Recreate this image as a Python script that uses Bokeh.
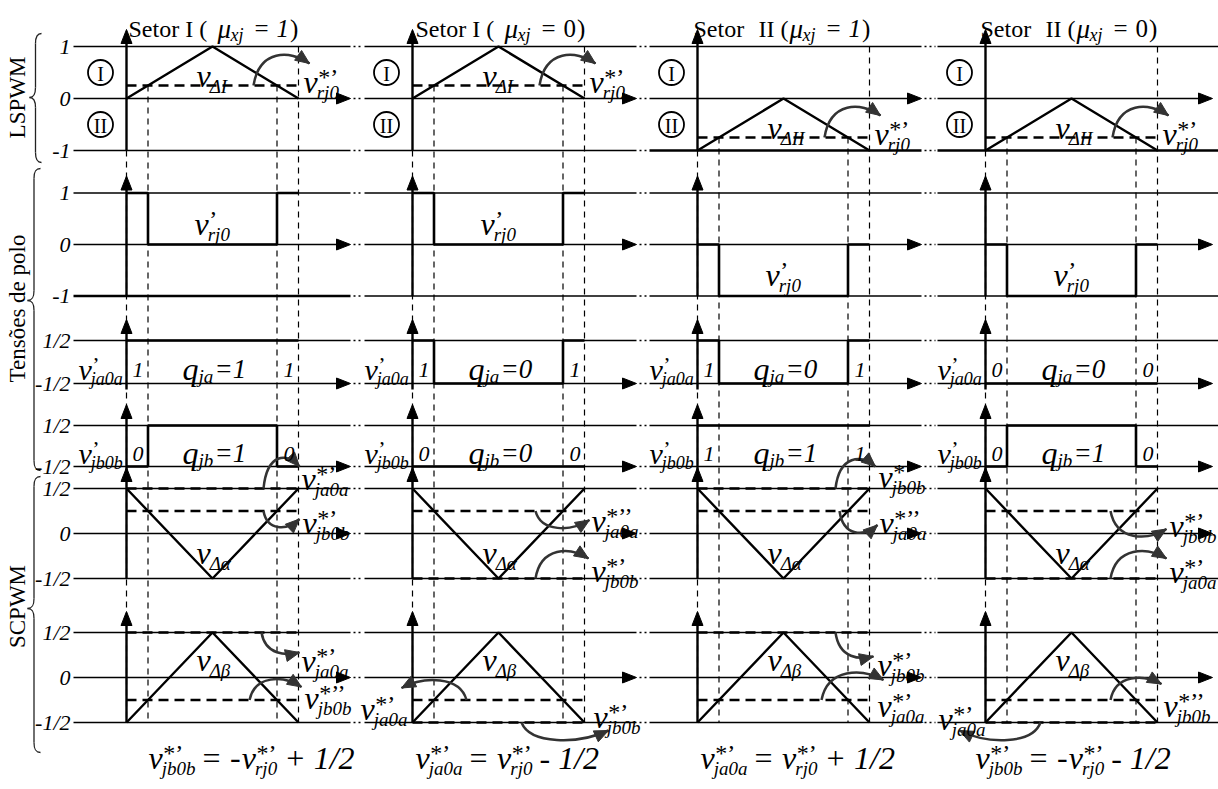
import math
from bokeh.plotting import figure
from bokeh.models import Range1d
from bokeh.core.properties import value
from bokeh.embed import file_html
from bokeh.resources import INLINE

W, H = 1218, 789
SERIF = "Liberation Serif"
ARROW_C = "#333333"

# ---------------- values shown in the diagram ----------------
sectors = ["I", "I", "II", "II"]
mu_xj = ["1", "0", "1", "0"]
v_rj0_ref = [0.25, 0.25, -0.75, -0.75]      # LSPWM reference per case
carrier_floor = [0.0, 0.0, -1.0, -1.0]      # zone I carrier in [0,1], zone II in [-1,0]
q_ja = [[1, 1, 1], [1, 0, 1], [1, 0, 1], [0, 0, 0]]
q_jb = [[0, 1, 0], [0, 0, 0], [1, 1, 1], [0, 1, 0]]
# SCPWM references: (level, superscript, subscript)
alpha_refs = [
    [(0.5, "*’", "ja0a"), (0.25, "*’", "jb0b")],
    [(0.25, "*’’", "ja0a"), (-0.5, "*’", "jb0b")],
    [(0.5, "*’", "jb0b"), (0.25, "*’’", "ja0a")],
    [(0.25, "*’", "jb0b"), (-0.5, "*’", "ja0a")],
]
beta_refs = [
    [(0.5, "*’", "ja0a"), (-0.25, "*’’", "jb0b")],
    [(-0.25, "*’", "ja0a"), (-0.5, "*’", "jb0b")],
    [(0.5, "*’", "jb0b"), (-0.25, "*’", "ja0a")],
    [(-0.25, "*’’", "jb0b"), (-0.5, "*’", "ja0a")],
]
eq_lhs = ["jb0b", "ja0a", "ja0a", "jb0b"]
eq_sign = ["-", "", "", "-"]
eq_tail = ["+ 1/2", "- 1/2", "+ 1/2", "- 1/2"]
row_levels = {
    "ls": [1, 0, -1], "pole": [1, 0, -1], "qa": [0.5, -0.5],
    "qb": [0.5, -0.5], "al": [0.5, 0, -0.5], "be": [0.5, 0, -0.5],
}
row_tick_text = {1: "1", 0: "0", -1: "-1", 0.5: "1/2", -0.5: "-1/2"}

# ---------------- layout ----------------
AX = [126, 412, 697, 985]          # time origin of each case
PER = 172                          # carrier period width
LEFT0 = 73
ROWS = {"ls": (98, 52), "pole": (244, 51.5), "qa": (361.5, 43),
        "qb": (445.5, 41), "al": (533, 90), "be": (677, 90)}
ROW_ARROW = {"ls": 0, "pole": 0, "qa": -0.5, "qb": -0.5, "al": 0, "be": 0}
BOLD_LINES = {("ls", 2, -1), ("ls", 3, -1), ("pole", 0, -1)}
TITLE_POS = [2, 3, -4, -5]
EQ_POS = [22, 3, 3, -10]
EQ_Y = 757
VS = 32                            # size of the main "v" symbols
RJ0_GEOM = (127, 183, -22, -14, 177, -4)
# (start dx, end dx, end dy, bow, label dx, label dy)
ALPHA_GEOM = [
    [(137, 173, -22, -14, 175, -10), (137, 173, 8, 12, 176, 12)],
    [(123, 177, 9, 12, 179, 10), (123, 176, -20, -12, 179, -8)],
    [(138, 178, -22, -12, 181, -12), (142, 180, 14, 12, 182, 12)],
    [(125, 181, 18, 12, 184, 15), (125, 181, -20, -12, 184, -7)],
]
BETA_GEOM = [
    [(135, 173, 20, 3, 175, 28), (123, 175, -13, -12, 178, -2)],
    [(54, -11, -12, -12, -52, 9), (109, 196, 8, 14, 181, -6)],
    [(138, 176, 24, 3, 180, 32), (124, 186, -20, -12, 180, 6)],
    [(125, 176, -16, -10, 178, 6), (55, -26, 8, 14, -47, -4)],
]


def Y(row, lvl):
    y0, u = ROWS[row]
    return y0 - lvl * u


# ---------------- drawing buffers ----------------
texts, lines, beziers, heads = {}, {}, [], []
brace_curves = []

EM = {"v": 0.444, "q": 0.5, "j": 0.278, "a": 0.5, "b": 0.5, "r": 0.389, "x": 0.444,
      "/": 0.278, "=": 0.675, "+": 0.675, "-": 0.333, " ": 0.25, "*": 0.5, "’": 0.3,
      "Δ": 0.612, "I": 0.333, "α": 0.5, "β": 0.5, "μ": 0.5}


def tw(s, size):
    return sum(EM.get(c, 0.5) for c in s) * size


def put(x, y, s, size, italic=True, align="left", baseline="alphabetic", angle=0.0, color="black"):
    d = texts.setdefault((size, italic, align, baseline, angle, color), ([], [], []))
    d[0].append(x); d[1].append(y); d[2].append(s)


def seg(xs, ys, width=1.3, dash="solid", color="black"):
    d = lines.setdefault((width, dash, color), ([], []))
    d[0].append(list(xs)); d[1].append(list(ys))


def head(tx, ty, ux, uy, length=12, half=4.5, color="black"):
    n = math.hypot(ux, uy)
    ux, uy = ux / n, uy / n
    bx, by = tx - length * ux, ty - length * uy
    heads.append(([tx, bx - half * uy, bx + half * uy], [ty, by + half * ux, by - half * ux], color))


def curved_arrow(sx, sy, ex, ey, bow):
    dx = ex - sx
    ext = (min(sy, ey) + bow) if bow < 0 else (max(sy, ey) + bow)
    c1 = (sx + 0.1 * dx, ext)
    c2 = (ex - 0.35 * dx, ext)
    beziers.append((sx, sy, ex, ey, c1[0], c1[1], c2[0], c2[1]))
    head(ex, ey, ex - c2[0], ey - c2[1], length=14, half=6, color=ARROW_C)


def var(x, y, sup, sub, size=VS):
    put(x, y, "v", size)
    wv = 0.444 * size
    w = wv
    if sup:
        ss = round(0.75 * size)
        put(x + wv + 0.5, y - 0.15 * size, sup, ss, italic=False)
        w = max(w, wv + tw(sup, ss))
    if sub:
        sb = round(0.6 * size)
        put(x + wv - 1, y + 0.33 * size, sub, sb)
        w = max(w, wv - 1 + tw(sub, sb))
    return w


def brace(x_tip, x_open, y_top, y_bot, y_mid, r=10):
    xs = (x_tip + x_open) / 2
    brace_curves.append((x_open, y_top, xs, y_top + r, xs + 1, y_top, xs, y_top + 0.4 * r))
    seg([xs, xs], [y_top + r, y_mid - r], width=1.3, color="#222222")
    brace_curves.append((xs, y_mid - r, x_tip, y_mid, xs, y_mid - 0.4 * r, xs - 1, y_mid))
    brace_curves.append((x_tip, y_mid, xs, y_mid + r, xs - 1, y_mid, xs, y_mid + 0.4 * r))
    seg([xs, xs], [y_mid + r, y_bot - r], width=1.3, color="#222222")
    brace_curves.append((xs, y_bot - r, x_open, y_bot, xs, y_bot - 0.4 * r, xs + 1, y_bot))


def col_span(k):
    a = LEFT0 if k == 0 else AX[k] - 48
    b = AX[k] + 224 if k < 3 else 1212
    return a, b


# ---------------- horizontal level lines and time axes ----------------
for row, levels in row_levels.items():
    for lvl in levels:
        put(70, Y(row, lvl), row_tick_text[lvl], 22, align="right", baseline="middle")
    for k in range(4):
        a, b = col_span(k)
        for lvl in levels:
            y = Y(row, lvl)
            lw = 2.4 if (row, k, lvl) in BOLD_LINES else 1.3
            if lvl == ROW_ARROW[row]:
                seg([a, b - 10], [y, y], width=lw)
                head(b, y, 1, 0, length=14, half=5.5)
            else:
                seg([a, b if k < 3 else W], [y, y], width=lw)
            if k < 3:
                seg([b + 3, AX[k + 1] - 50], [y, y], width=1.3, dash="2 3")
        # vertical axis with arrow
        x0 = AX[k]
        lo, hi = min(levels), max(levels)
        ext = 6 if row in ("qa", "qb") else 0
        tip = Y(row, hi) - (17 if row in ("ls", "pole") else 21)
        seg([x0, x0], [Y(row, lo) + ext, tip + 10], width=2.4)
        head(x0, tip, 0, -1, length=14, half=5.5)

# ---------------- per-case content ----------------
for k in range(4):
    x0 = AX[k]
    fl = carrier_floor[k]
    vr = v_rj0_ref[k]
    t_on = (vr - fl) / 2.0
    tt = [0.0, t_on, 1.0 - t_on, 1.0]
    xt = [x0 + t * PER for t in tt]

    # vertical dashed guides through all rows
    y_end = Y("be", -0.5)
    seg([xt[0], xt[0]], [Y("ls", -1), y_end], width=1.2, dash="6 5")
    seg([xt[1], xt[1]], [Y("ls", vr), y_end], width=1.2, dash="6 5")
    seg([xt[2], xt[2]], [Y("ls", vr), y_end], width=1.2, dash="6 5")
    seg([xt[3], xt[3]], [Y("ls", 1), y_end], width=1.2, dash="6 5")

    # title
    tx = x0 + TITLE_POS[k]
    if sectors[k] == "I":
        put(tx, 28, "Setor I (", 24, italic=False)
        mx = tx + 89
    else:
        put(tx, 28, "Setor", 24, italic=False)
        put(tx + 65, 28, "II (", 24, italic=False)
        mx = tx + 96
    put(mx, 28, "μ", 27)
    put(mx + 13, 34, "xj", 18)
    put(mx + 37, 28, "=", 25, italic=False)
    put(mx + 59, 28, mu_xj[k], 25, italic=(mu_xj[k] == "1"))
    put(mx + 59 + tw(mu_xj[k], 25) + 1, 28, ")", 25, italic=False)

    # LSPWM: zone markers, carrier, reference
    for lvl, name in ((0.5, "I"), (-0.5, "II")):
        put(x0 - 26, Y("ls", lvl) + 1, name, 20, italic=False, align="center", baseline="middle")
    seg([x0, x0 + PER / 2, x0 + PER], [Y("ls", fl), Y("ls", fl + 1), Y("ls", fl)], width=2.4)
    seg([x0, x0 + PER], [Y("ls", vr)] * 2, width=2.4, dash="10 6")
    var(x0 + 70, Y("ls", fl + 0.44), None, "Δ" + sectors[k])
    sx, ex, edy, bow, lx, ldy = RJ0_GEOM
    ys = Y("ls", vr)
    curved_arrow(x0 + sx, ys, x0 + ex, ys + edy, bow)
    var(x0 + lx, ys + ldy, "*’", "rj0")

    # pole voltage v'_rj0 = q_ja - q_jb
    pole = [a - b for a, b in zip(q_ja[k], q_jb[k])]
    px, py = [], []
    for i in range(3):
        px += [xt[i], xt[i + 1]]
        py += [Y("pole", pole[i])] * 2
    seg(px, py, width=2.6)
    var(x0 + 68, Y("pole", pole[1] + 0.5) + 5, "’", "rj0")

    # leg voltages v'_ja0a, v'_jb0b
    for row, q, sub, qn in (("qa", q_ja[k], "ja0a", "ja"), ("qb", q_jb[k], "jb0b", "jb")):
        wx, wy = [], []
        for i in range(3):
            wx += [xt[i], xt[i + 1]]
            wy += [Y(row, q[i] - 0.5)] * 2
        seg(wx, wy, width=2.6)
        y0 = ROWS[row][0]
        var(x0 - 48, y0 + 7, "’", sub, 30)
        put(x0 + 6, y0 + 8, str(q[0]), 22)
        put(x0 + PER - 15, y0 + 8, str(q[2]), 22)
        put(x0 + 56, y0 + 7, "q", 32)
        put(x0 + 72, y0 + 14, qn, 19)
        put(x0 + 88, y0 + 7, "=" + str(q[1]), 27)

    # SCPWM carriers and references
    for row, refs, geom, peak, lab in (("al", alpha_refs[k], ALPHA_GEOM[k], -0.5, "Δα"),
                                      ("be", beta_refs[k], BETA_GEOM[k], 0.5, "Δβ")):
        seg([x0, x0 + PER / 2, x0 + PER], [Y(row, -peak), Y(row, peak), Y(row, -peak)], width=2.4)
        var(x0 + 70, Y(row, -0.22 if row == "al" else 0.19), None, lab)
        for (lvl, sup, sub), (sx, ex, edy, bow, lx, ldy) in zip(refs, geom):
            ys = Y(row, lvl)
            seg([x0, x0 + PER], [ys, ys], width=2.4, dash="10 6")
            curved_arrow(x0 + sx, ys, x0 + ex, ys + edy, bow)
            var(x0 + lx, ys + ldy, sup, sub)

    # relation under each case
    cx = x0 + EQ_POS[k]
    cx += var(cx, EQ_Y, "*’", eq_lhs[k], 32) + 7
    put(cx, EQ_Y, "=", 32, italic=False)
    cx += tw("=", 32) + 6
    if eq_sign[k]:
        put(cx, EQ_Y, eq_sign[k], 32, italic=False)
        cx += tw(eq_sign[k], 32) + 1
    cx += var(cx, EQ_Y, "*’", "rj0", 32) + 7
    put(cx, EQ_Y, eq_tail[k], 32)

# group braces
brace(29, 41, 33, 162, 97)
brace(27, 40, 168, 470, 300)
brace(27, 40, 476, 752, 608)
put(17, 97, "LSPWM", 23, italic=False, align="center", baseline="middle", angle=math.pi / 2)
put(17, 308, "Tensões de polo", 23, italic=False, align="center", baseline="middle", angle=math.pi / 2)
put(17, 606, "SCPWM", 23, italic=False, align="center", baseline="middle", angle=math.pi / 2)

# ---------------- figure ----------------
p = figure(width=W, height=H, x_range=Range1d(0, W), y_range=Range1d(H, 0),
           x_axis_type=None, y_axis_type=None, output_backend="svg",
           toolbar_location=None, min_border=0, outline_line_color=None)
p.background_fill_color = "white"
p.border_fill_color = "white"

for (w, dash, color), (xs, ys) in lines.items():
    p.multi_line(xs=xs, ys=ys, line_width=w, line_dash=dash, line_color=color)

for curves, lw, col in ((beziers, 2.5, ARROW_C), (brace_curves, 1.3, "#222222")):
    bz = list(zip(*curves))
    p.bezier(x0=list(bz[0]), y0=list(bz[1]), x1=list(bz[2]), y1=list(bz[3]),
             cx0=list(bz[4]), cy0=list(bz[5]), cx1=list(bz[6]), cy1=list(bz[7]),
             line_width=lw, line_color=col)

p.patches(xs=[h[0] for h in heads], ys=[h[1] for h in heads],
          fill_color=[h[2] for h in heads], line_color=[h[2] for h in heads], line_width=1)

cx_c, cy_c = [], []
for k in range(4):
    for lvl in (0.5, -0.5):
        cx_c.append(AX[k] - 26); cy_c.append(Y("ls", lvl))
p.scatter(x=cx_c, y=cy_c, marker="circle", size=25, fill_color=None, line_color="black", line_width=1.8)

for (size, italic, align, baseline, angle, color), (xs, ys, ts) in texts.items():
    p.text(x=xs, y=ys, text=ts, text_font=value(SERIF), text_font_size=f"{size}px",
           text_font_style="italic" if italic else "normal", text_align=align,
           text_baseline=baseline, angle=angle, text_color=color)

open("out.html", "w").write(file_html(p, INLINE))
